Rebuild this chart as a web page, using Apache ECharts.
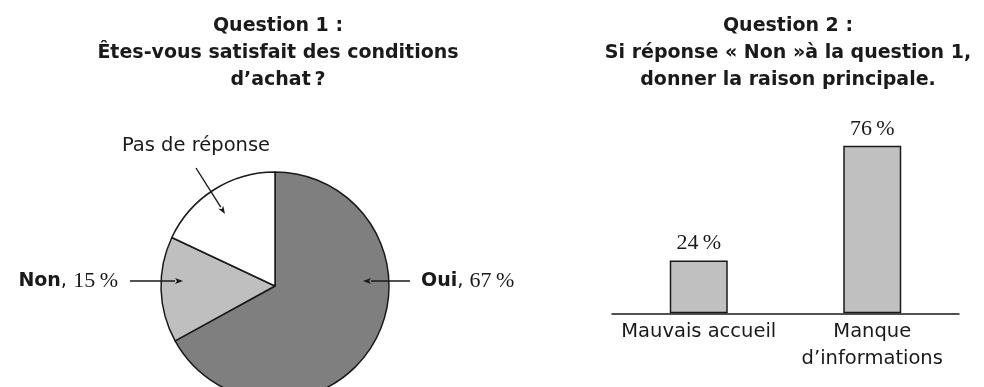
<!DOCTYPE html>
<html>
<head>
<meta charset="utf-8">
<script src="https://cdn.jsdelivr.net/npm/echarts@6/dist/echarts.min.js"></script>
<style>
  html, body { margin: 0; padding: 0; background: #ffffff; }
  #chart { width: 984px; height: 387px; }
</style>
</head>
<body>
<div id="chart"></div>
<script>
// Question 1: satisfaction (pie)
const pieCategories = ['Oui', 'Non', 'Pas de réponse'];
const pieValues = [67, 15, 18];
const pieColors = ['#7f7f7f', '#bfbfbf', '#ffffff'];

// Question 2: reasons (bars)
const barCategories = ['Mauvais accueil', 'Manque\nd\u2019informations'];
const barValues = [24, 76];

const titleLines1 = ['Question 1 :', '\u00CAtes-vous satisfait des conditions', 'd\u2019achat\u202F?'];
const titleLines2 = ['Question 2 :', 'Si r\u00E9ponse \u00AB Non \u00BB\u00E0 la question 1,', 'donner la raison principale.'];

const INK = '#1a1a1a';
const SANS = 'DejaVu Sans';
const SERIF = 'Liberation Serif';

// Pie geometry
const PIE_CX = 275, PIE_CY = 286, PIE_R = 114;

// Label anchor points for the pie annotations (one per slice)
const pieLabelPos = [
  { x: 421, y: 281, align: 'left' },
  { x: 118, y: 281, align: 'right' },
  { x: 196, y: 146, align: 'center' }
];
// Annotation arrows: [tailX, tailY, tipX, tipY]
const pieArrows = [
  [410, 281, 363, 281],
  [130, 281, 183, 281],
  [196, 168, 225, 214]
];

function arrowGraphic(a) {
  const [x1, y1, x2, y2] = a;
  const ang = Math.atan2(y2 - y1, x2 - x1);
  const len = 8, half = 3;
  const bx = x2 - len * Math.cos(ang), by = y2 - len * Math.sin(ang);
  const px = -Math.sin(ang) * half, py = Math.cos(ang) * half;
  return [
    { type: 'line', z: 10, shape: { x1: x1, y1: y1, x2: bx, y2: by },
      style: { stroke: INK, lineWidth: 1.4 } },
    { type: 'polygon', z: 10,
      shape: { points: [[x2, y2], [bx + px, by + py], [bx + 2 * Math.cos(ang), by + 2 * Math.sin(ang)], [bx - px, by - py]] },
      style: { fill: INK } }
  ];
}

const chart = echarts.init(document.getElementById('chart'), null, { renderer: 'canvas' });

const titleStyle = {
  fontFamily: SANS, fontWeight: 'bold', fontSize: 19, color: INK, lineHeight: 26.7
};

const option = {
  backgroundColor: '#ffffff',
  animation: false,
  title: [
    { text: titleLines1.join('\n'), left: 278, top: 13, textAlign: 'center', padding: 0, textStyle: titleStyle },
    { text: titleLines2.join('\n'), left: 788, top: 13, textAlign: 'center', padding: 0, textStyle: titleStyle }
  ],
  grid: { left: 612, right: 25, top: 92.8, bottom: 73.7, containLabel: false },
  xAxis: {
    type: 'category',
    data: barCategories,
    axisLine: { show: true, lineStyle: { color: INK, width: 1.5 } },
    axisTick: { show: false },
    splitLine: { show: false },
    axisLabel: { fontFamily: SANS, fontSize: 19.5, color: INK, margin: 5, lineHeight: 27, interval: 0 }
  },
  yAxis: { type: 'value', min: 0, max: 100, show: false },
  series: [
    {
      type: 'pie',
      center: [PIE_CX, PIE_CY],
      radius: PIE_R,
      startAngle: 90,
      clockwise: true,
      silent: true,
      data: pieCategories.map((name, i) => ({
        name: name, value: pieValues[i], itemStyle: { color: pieColors[i] }
      })),
      itemStyle: { borderColor: INK, borderWidth: 1.5 },
      label: {
        show: true,
        position: 'outside',
        formatter: function (p) {
          if (p.dataIndex === 2) return '{s|' + p.name + '}';
          return '{b|' + p.name + '}{s|, }{v|' + p.value + '\u2009%}';
        },
        rich: {
          b: { fontFamily: SANS, fontWeight: 'bold', fontSize: 19, color: INK },
          s: { fontFamily: SANS, fontSize: 19.5, color: INK },
          v: { fontFamily: SERIF, fontSize: 22, color: INK }
        }
      },
      labelLine: { show: false },
      labelLayout: function (params) {
        const p = pieLabelPos[params.dataIndex];
        return { x: p.x, y: p.y, align: p.align, verticalAlign: 'middle' };
      }
    },
    {
      type: 'bar',
      data: barValues,
      barWidth: 58,
      silent: true,
      itemStyle: { color: '#c0c0c0', borderColor: INK, borderWidth: 1.5 },
      label: {
        show: true, position: 'top', distance: 6,
        formatter: '{c}\u2009%',
        fontFamily: SERIF, fontSize: 22, color: INK
      }
    }
  ],
  graphic: pieArrows.flatMap(arrowGraphic)
};

chart.setOption(option);
</script>
</body>
</html>
